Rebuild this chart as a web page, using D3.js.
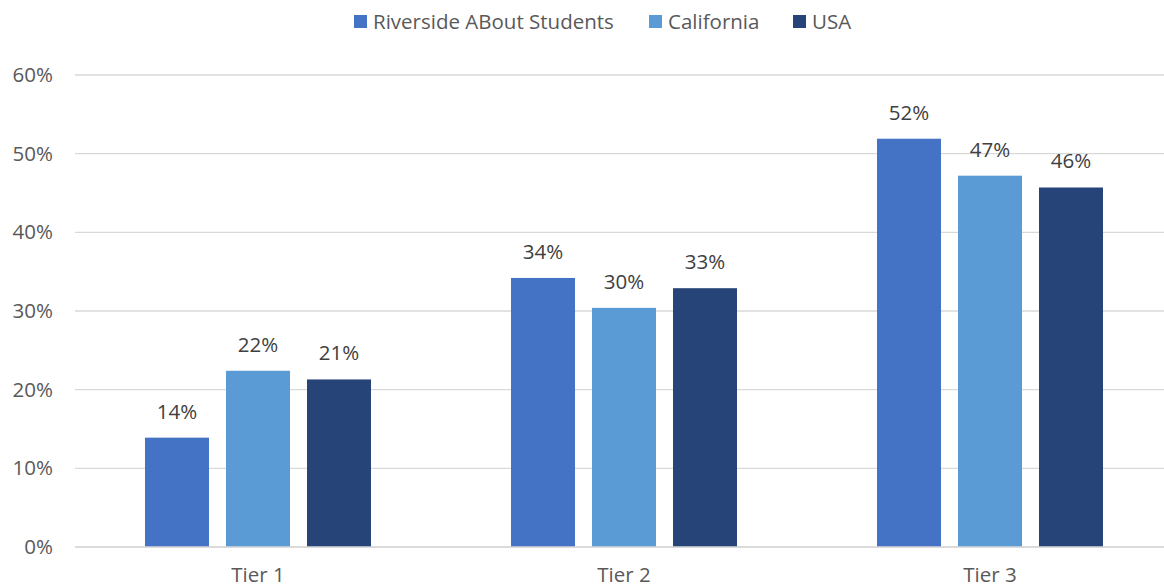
<!DOCTYPE html>
<html>
<head>
<meta charset="utf-8">
<script src="https://cdn.jsdelivr.net/npm/d3@7"></script>
<style>
  html, body { margin: 0; padding: 0; background: #fff; }
  svg { display: block; font-family: "Open Sans", "Noto Sans", sans-serif; }
</style>
</head>
<body>
<svg id="chart" width="1164" height="588"></svg>
<script>
// Share of students by tier, in percent
const categories = ["Tier 1", "Tier 2", "Tier 3"];
const seriesNames = ["Riverside ABout Students", "California", "USA"];
const riverside = [13.9, 34.2, 51.9];
const california = [22.4, 30.4, 47.2];
const usa = [21.3, 32.9, 45.7];
const yTicks = [0, 10, 20, 30, 40, 50, 60];
const colors = ["#4472C4", "#5B9BD5", "#264478"];

const seriesValues = [riverside, california, usa];
const rows = categories.map((c, i) => ({
  category: c,
  values: seriesNames.map((s, j) => ({ series: s, value: seriesValues[j][i] }))
}));

const svg = d3.select("#chart");
const textColor = "#595959";
const fontSize = "20.5px";

const x0 = d3.scaleBand().domain(categories).range([75, 1173]).paddingInner(0).paddingOuter(0);
const groupWidth = 226;
const x1 = d3.scaleBand().domain(seriesNames).range([0, groupWidth]).paddingInner(17 / 81).paddingOuter(0);
const y = d3.scaleLinear().domain([0, 60]).range([547, 75]);

// Horizontal gridlines
svg.append("g")
  .selectAll("line")
  .data(yTicks)
  .join("line")
  .attr("x1", 75).attr("x2", 1173)
  .attr("y1", d => y(d)).attr("y2", d => y(d))
  .attr("stroke", "#D9D9D9")
  .attr("stroke-width", 1.3);

// Y axis labels
const yAxis = svg.append("g")
  .attr("transform", "translate(53,0)")
  .call(d3.axisLeft(y).tickValues(yTicks).tickFormat(d => d + "%").tickSize(0).tickPadding(0));
yAxis.select(".domain").remove();
yAxis.selectAll("text")
  .attr("fill", textColor)
  .style("font-size", fontSize)
  .style("font-family", "\"Open Sans\", sans-serif");

// X axis labels
const xAxis = svg.append("g")
  .attr("transform", "translate(0,567)")
  .call(d3.axisBottom(x0).tickSize(0).tickPadding(0));
xAxis.select(".domain").remove();
xAxis.selectAll("text")
  .attr("fill", textColor)
  .attr("dy", "0.71em")
  .style("font-size", fontSize)
  .style("font-family", "\"Open Sans\", sans-serif");

// Bars
const groupOffset = (x0.bandwidth() - groupWidth) / 2;
const groups = svg.append("g")
  .selectAll("g")
  .data(rows)
  .join("g")
  .attr("transform", d => `translate(${x0(d.category) + groupOffset},0)`);

groups.selectAll("rect")
  .data(d => d.values)
  .join("rect")
  .attr("x", d => x1(d.series))
  .attr("width", x1.bandwidth())
  .attr("y", d => y(d.value))
  .attr("height", d => y(0) - y(d.value))
  .attr("fill", (d, i) => colors[i]);

// Value labels
groups.selectAll("text")
  .data(d => d.values)
  .join("text")
  .attr("x", d => x1(d.series) + x1.bandwidth() / 2)
  .attr("y", d => y(d.value) - 19)
  .attr("text-anchor", "middle")
  .attr("fill", "#404040")
  .style("font-size", fontSize)
  .text(d => d3.format(".0f")(d.value) + "%");

// Baseline
svg.append("line")
  .attr("x1", 75).attr("x2", 1173)
  .attr("y1", y(0)).attr("y2", y(0))
  .attr("stroke", "#D9D9D9")
  .attr("stroke-width", 1.3);

// Legend
const legendItems = [
  { name: seriesNames[0], x: 354 },
  { name: seriesNames[1], x: 649 },
  { name: seriesNames[2], x: 793 }
];
const legend = svg.append("g")
  .selectAll("g")
  .data(legendItems)
  .join("g")
  .attr("transform", d => `translate(${d.x},15)`);
legend.append("rect")
  .attr("width", 13).attr("height", 13)
  .attr("fill", (d, i) => colors[i]);
legend.append("text")
  .attr("x", 19).attr("y", 14)
  .attr("fill", textColor)
  .style("font-size", fontSize)
  .text(d => d.name);
</script>
</body>
</html>
